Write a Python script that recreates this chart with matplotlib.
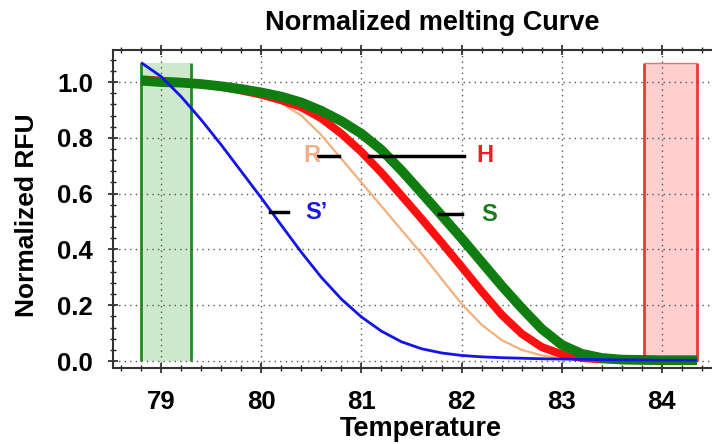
import matplotlib
matplotlib.use('Agg')
import matplotlib.pyplot as plt
from matplotlib.ticker import MultipleLocator

plt.rcParams['font.family'] = ['Liberation Sans', 'DejaVu Sans']
plt.rcParams['font.weight'] = 'bold'

# temperature points (deg C)
temp = [78.8, 79.0, 79.2, 79.4, 79.6, 79.8, 80.0, 80.2, 80.4, 80.6, 80.8, 81.0, 81.2, 81.4,
        81.6, 81.8, 82.0, 82.2, 82.4, 82.6, 82.8, 83.0, 83.2, 83.4, 83.6, 83.8, 84.0, 84.35]

rfu_r = [1.005, 1.0, 0.996, 0.99, 0.98, 0.966, 0.95, 0.925, 0.88, 0.81, 0.725, 0.64, 0.555, 0.47,
         0.385, 0.295, 0.205, 0.13, 0.075, 0.04, 0.02, 0.01, 0.006, 0.004, 0.003, 0.003, 0.003, 0.003]
rfu_h = [1.01, 1.005, 1.0, 0.993, 0.983, 0.97, 0.955, 0.935, 0.91, 0.87, 0.815, 0.75, 0.675, 0.593,
         0.51, 0.425, 0.338, 0.25, 0.166, 0.098, 0.05, 0.024, 0.011, 0.006, 0.004, 0.003, 0.003, 0.003]
rfu_s = [1.005, 1.0, 0.998, 0.993, 0.985, 0.975, 0.963, 0.948, 0.927, 0.897, 0.86, 0.815, 0.757, 0.683,
         0.603, 0.522, 0.44, 0.355, 0.27, 0.19, 0.115, 0.058, 0.026, 0.011, 0.005, 0.004, 0.003, 0.003]
rfu_s2 = [1.07, 1.02, 0.948, 0.865, 0.775, 0.68, 0.585, 0.487, 0.39, 0.30, 0.222, 0.158, 0.107, 0.069,
          0.044, 0.029, 0.02, 0.015, 0.012, 0.01, 0.008, 0.007, 0.006, 0.005, 0.004, 0.004, 0.003, 0.003]

# shaded normalisation windows
green_win = (78.8, 79.3)
red_win = (83.82, 84.35)
win_top = 1.07

# curve labels: text, text x, line start, line end, y, colour
labels = [("R", 80.42, 80.57, 80.78, 0.736, '#f0b088'),
          ("H", 82.15, 81.08, 82.02, 0.736, '#ee1c24'),
          ("S", 82.2, 81.77, 82.0, 0.527, '#1b7a1b'),
          ("S\u2019", 80.44, 80.09, 80.27, 0.533, '#1a1ae0')]

fig = plt.figure(figsize=(7.12, 4.44), dpi=100)
ax = fig.add_axes([113 / 712, 76 / 444, 599 / 712, 318 / 444])

# windows
ax.fill_between(green_win, 0, win_top, color='#cde9cd', lw=0, zorder=1)
ax.vlines(green_win, 0, win_top, color='#1e8c1e', lw=2, zorder=1.2)
ax.fill_between(red_win, 0, win_top, color='#ffcfcf', lw=0, zorder=1)
ax.vlines(red_win, 0, win_top, color='#e83a3a', lw=2, zorder=1.2)
ax.hlines(win_top, red_win[0], red_win[1], color='#ee7070', lw=1, zorder=1.2)

# curves
ax.plot(temp, rfu_r, color='#f4b07c', lw=1.6, zorder=2, solid_capstyle='butt')
ax.plot(temp, rfu_h, color='#ff1010', lw=5.8, zorder=3, solid_capstyle='butt')
ax.plot(temp, rfu_s, color='#0f7d0f', lw=7.0, zorder=4, solid_capstyle='butt')
ax.plot(temp, rfu_s2, color='#1414e6', lw=2.0, zorder=5, solid_capstyle='butt')

for txt, tx, x0, x1, y, c in labels:
    ax.plot([x0, x1], [y, y], color='black', lw=2.5, zorder=6)
    ax.text(tx, y, txt, color=c, fontsize=17, fontweight='bold', va='center', ha='left', zorder=6)

ax.set_xlim(78.52, 84.5)
ax.set_ylim(-0.025, 1.115)
ax.xaxis.set_major_locator(MultipleLocator(1))
ax.xaxis.set_minor_locator(MultipleLocator(0.2))
ax.yaxis.set_minor_locator(MultipleLocator(0.04))
ax.set_yticks([0, 0.2, 0.4, 0.6, 0.8, 1.0])
ax.set_yticklabels(['0.0', '0.2', '0.4', '0.6', '0.8', '1.0'])
ax.tick_params(which='major', direction='inout', length=7, width=1.2, labelsize=18.5,
               top=True, colors='#222222')
ax.tick_params(axis='x', which='major', pad=12)
ax.tick_params(axis='y', which='major', pad=11)
ax.tick_params(which='minor', direction='inout', length=4, width=1, top=True, colors='#222222')
for lab in ax.get_xticklabels() + ax.get_yticklabels():
    lab.set_fontweight('bold')
    lab.set_color('black')

ax.grid(True, which='major', linestyle=(0, (1, 3)), color='#555555', lw=1)
for sp in ['left', 'bottom', 'top']:
    ax.spines[sp].set_linewidth(1.5)
    ax.spines[sp].set_color('#333333')
ax.spines['right'].set_visible(False)

fig.text(27 / 712, 1 - 215 / 444, 'Normalized RFU', fontsize=19, fontweight='bold',
         rotation=90, ha='center', va='center')
fig.text(421 / 712, 1 - 436 / 444, 'Temperature', fontsize=19.5, fontweight='bold',
         ha='center', va='baseline')
fig.text(432 / 712, 1 - 30 / 444, 'Normalized melting Curve', fontsize=19.5, fontweight='bold',
         ha='center', va='baseline')

fig.savefig('out.png', dpi=100)
